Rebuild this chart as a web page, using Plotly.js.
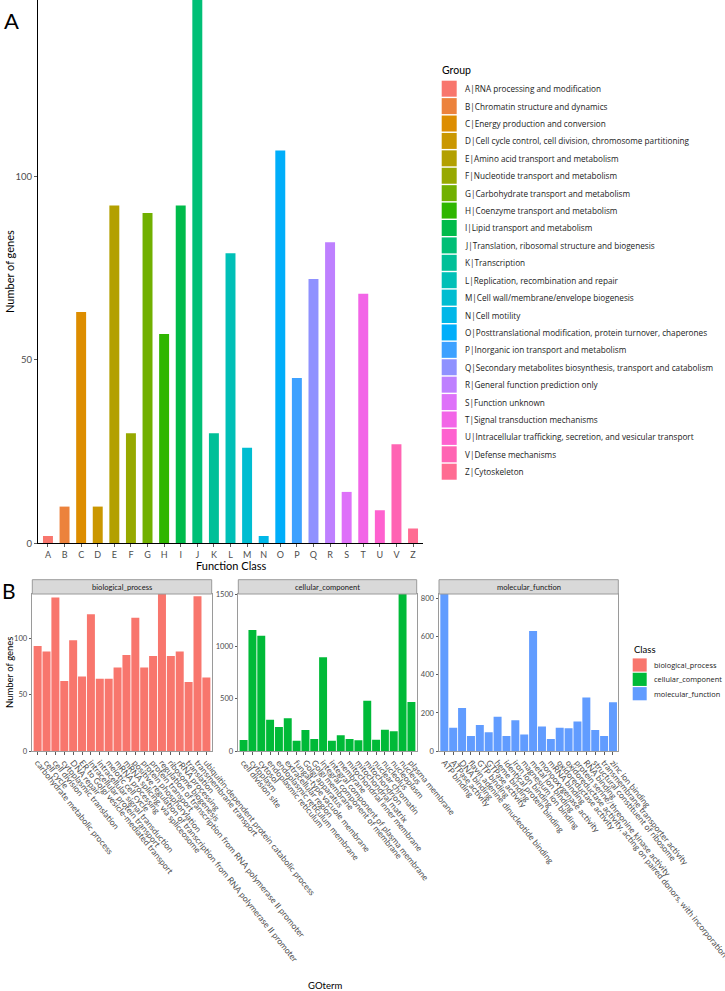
<!DOCTYPE html>
<html>
<head>
<meta charset="utf-8">
<script src="https://cdn.plot.ly/plotly-3.0.1.min.js"></script>
<style>html,body{margin:0;padding:0;background:#fff;}#chart{width:725px;height:991px;}</style>
</head>
<body>
<div id="chart"></div>
<script>
// ---------- DATA ----------
const cogLetters = ['A','B','C','D','E','F','G','H','I','J','K','L','M','N','O','P','Q','R','S','T','U','V','Z'];
const cogNames = [
  'RNA processing and modification',
  'Chromatin structure and dynamics',
  'Energy production and conversion',
  'Cell cycle control, cell division, chromosome partitioning',
  'Amino acid transport and metabolism',
  'Nucleotide transport and metabolism',
  'Carbohydrate transport and metabolism',
  'Coenzyme transport and metabolism',
  'Lipid transport and metabolism',
  'Translation, ribosomal structure and biogenesis',
  'Transcription',
  'Replication, recombination and repair',
  'Cell wall/membrane/envelope biogenesis',
  'Cell motility',
  'Posttranslational modification, protein turnover, chaperones',
  'Inorganic ion transport and metabolism',
  'Secondary metabolites biosynthesis, transport and catabolism',
  'General function prediction only',
  'Function unknown',
  'Signal transduction mechanisms',
  'Intracellular trafficking, secretion, and vesicular transport',
  'Defense mechanisms',
  'Cytoskeleton'
];
const cogCounts = [2,10,63,10,92,30,90,57,92,148,30,79,26,2,107,45,72,82,14,68,9,27,4];

const goClasses = ['biological_process','cellular_component','molecular_function'];

const bpTerms = [
  'carbohydrate metabolic process','cell cycle','cell division','cytoplasmic translation','DNA repair',
  'ER to Golgi vesicle-mediated transport','intracellular protein transport','intracellular signal transduction',
  'meiotic cell cycle','mRNA processing','mRNA splicing, via spliceosome',
  'positive regulation of transcription from RNA polymerase II promoter','protein phosphorylation',
  'protein transport','regulation of transcription from RNA polymerase II promoter','ribosome biogenesis',
  'rRNA processing','translation','transmembrane transport','ubiquitin-dependent protein catabolic process'
];
const bpCounts = [93,88,136,62,98,66,121,64,64,74,85,118,74,84,139,84,88,61,137,65];

const ccTerms = [
  'cell division site','cytoplasm','cytosol','endoplasmic reticulum','endoplasmic reticulum membrane',
  'extracellular region','fungal-type vacuole membrane','Golgi apparatus','Golgi membrane',
  'integral component of membrane','integral component of plasma membrane','membrane',
  'mitochondrial inner membrane','mitochondrial matrix','mitochondrion','nuclear chromatin',
  'nucleolus','nucleoplasm','nucleus','plasma membrane'
];
const ccCounts = [105,1156,1102,299,229,312,99,201,115,895,99,150,115,102,481,108,204,188,1500,468];

const mfTerms = [
  'ATP binding','ATPase activity','DNA binding','flavin adenine dinucleotide binding','GTP binding',
  'GTPase activity','heme binding','identical protein binding','iron ion binding','magnesium ion binding',
  'metal ion binding','monooxygenase activity','mRNA binding','oxidoreductase activity',
  'oxidoreductase activity, acting on paired donors, with incorporation or reduction of molecular oxygen',
  'protein serine/threonine kinase activity','RNA binding','structural constituent of ribosome',
  'transmembrane transporter activity','zinc ion binding'
];
const mfCounts = [823,122,225,79,136,98,180,79,161,87,629,128,63,122,119,154,281,110,79,255];

const topYTicks = [0,50,100];
const bpYTicks = [0,50,100];
const ccYTicks = [0,500,1000,1500];
const mfYTicks = [0,200,400,600,800];

// ---------- helpers ----------
function hcl(h, c, l) {
  const hr = h * Math.PI / 180;
  const U = c * Math.cos(hr), V = c * Math.sin(hr);
  const Xn = 95.047, Yn = 100, Zn = 108.883;
  const d = Xn + 15 * Yn + 3 * Zn;
  const un = 4 * Xn / d, vn = 9 * Yn / d;
  const Y = l > 8 ? Yn * Math.pow((l + 16) / 116, 3) : Yn * l / 903.3;
  const u = U / (13 * l) + un, v = V / (13 * l) + vn;
  const X = 9 * Y * u / (4 * v);
  const Z = -X / 3 - 5 * Y + 3 * Y / v;
  const x = X / 100, y = Y / 100, z = Z / 100;
  const lin = [
    3.240479 * x - 1.537150 * y - 0.498535 * z,
    -0.969256 * x + 1.875992 * y + 0.041556 * z,
    0.055648 * x - 0.204043 * y + 1.057311 * z
  ];
  const g = lin.map(t => {
    t = t <= 0.0031308 ? 12.92 * t : 1.055 * Math.pow(t, 1 / 2.4) - 0.055;
    return Math.round(Math.max(0, Math.min(1, t)) * 255);
  });
  return 'rgb(' + g.join(',') + ')';
}
function huePal(n) {
  const out = [];
  for (let i = 0; i < n; i++) out.push(hcl(15 + i * 360 / n, 100, 65));
  return out;
}
const W = 725, H = 991;
const px = x => x / W;
const py = y => 1 - y / H;

const cogColors = huePal(cogLetters.length);
const classColors = huePal(goClasses.length);

const FONT = 'Lato, "Noto Sans", sans-serif';
const LFONT = '"Open Sans", Lato, sans-serif';
const TICKGREY = '#4D4D4D';

// ---------- traces ----------
const traces = [
  {
    type: 'bar', x: cogLetters, y: cogCounts, xaxis: 'x', yaxis: 'y',
    width: 0.6, marker: { color: cogColors, line: { width: 0 } }
  },
  {
    type: 'bar', x: bpTerms, y: bpCounts, xaxis: 'x2', yaxis: 'y2', width: 0.9,
    marker: { color: classColors[0], line: { width: 0 } }, name: goClasses[0]
  },
  {
    type: 'bar', x: ccTerms, y: ccCounts, xaxis: 'x3', yaxis: 'y3', width: 0.9,
    marker: { color: classColors[1], line: { width: 0 } }, name: goClasses[1]
  },
  {
    type: 'bar', x: mfTerms, y: mfCounts, xaxis: 'x4', yaxis: 'y4', width: 0.9,
    marker: { color: classColors[2], line: { width: 0 } }, name: goClasses[2]
  }
];

// ---------- layout ----------
const facetPx = [[32.3, 211.7], [238.3, 416.7], [439, 618.3]];
const panelTop = 594, panelBot = 751, stripTop = 579.7;

function facetX(i, terms, anchor) {
  return {
    domain: [px(facetPx[i][0]), px(facetPx[i][1])], anchor: anchor, type: 'category',
    range: [-0.6, terms.length - 0.4], showline: true, mirror: true, linecolor: '#9A9A9A', linewidth: 1,
    tickmode: 'array', tickvals: terms, ticktext: terms,
    ticks: 'outside', ticklen: 2.5, tickcolor: '#333', tickwidth: 0.8,
    tickangle: 51, tickfont: { size: 8.5, color: TICKGREY, family: FONT },
    showgrid: false, zeroline: false, fixedrange: true
  };
}
function facetY(vals, maxv, anchor) {
  return {
    domain: [py(panelBot), py(panelTop)], anchor: anchor, range: [0, maxv],
    tickmode: 'array', tickvals: vals, ticktext: vals.map(String),
    showline: true, mirror: true, linecolor: '#9A9A9A', linewidth: 1,
    ticks: 'outside', ticklen: 2.5, tickcolor: '#333', tickwidth: 0.8,
    tickfont: { size: 7.6, color: TICKGREY, family: FONT },
    showgrid: false, zeroline: false, fixedrange: true
  };
}

const shapes = [];
const annotations = [];
function note(text, x, y, size, opts) {
  annotations.push(Object.assign({
    text: text, x: px(x), y: py(y), xref: 'paper', yref: 'paper',
    xanchor: 'left', yanchor: 'middle', showarrow: false,
    font: { size: size, family: FONT, color: '#000' }
  }, opts || {}));
}

// panel letters
note('A', 2, 21, 22);
note('B', 0, 590, 21);

// axis titles
note('Function Class', 230.5, 565, 11, { xanchor: 'center' });
note('Number of genes', 9, 272, 11, { xanchor: 'center', textangle: -90 });
note('Number of genes', 9, 673, 9.5, { xanchor: 'center', textangle: -90 });
note('GOterm', 325, 985, 9.5, { xanchor: 'center' });

// facet strips
goClasses.forEach((c, i) => {
  shapes.push({ type: 'rect', xref: 'paper', yref: 'paper', x0: px(facetPx[i][0]), x1: px(facetPx[i][1]), y0: py(panelTop), y1: py(stripTop), fillcolor: '#D9D9D9', line: { color: '#9A9A9A', width: 1 }, layer: 'above' });
  note(c, (facetPx[i][0] + facetPx[i][1]) / 2, (panelTop + stripTop) / 2, 7.6, { xanchor: 'center', font: { size: 7.6, family: FONT, color: '#1A1A1A' } });
});

// Group legend (top)
const gStep = 17.41, gFirst = 88.7;
note('Group', 440, 70, 10.5);
cogLetters.forEach((L, i) => {
  const cy = gFirst + i * gStep;
  shapes.push({ type: 'rect', xref: 'paper', yref: 'paper', x0: px(441.7), x1: px(456.7), y0: py(cy + 8), y1: py(cy - 8), fillcolor: cogColors[i], line: { width: 0 } });
  note(L + '|' + cogNames[i], 463, cy, 8.2, { font: { size: 8.2, family: LFONT, color: '#1A1A1A' } });
});

// Class legend (bottom)
const cStep = 14.35, cFirst = 665;
note('Class', 632, 649, 9.5);
goClasses.forEach((c, i) => {
  const cy = cFirst + i * cStep;
  shapes.push({ type: 'rect', xref: 'paper', yref: 'paper', x0: px(632.7), x1: px(646.7), y0: py(cy + 6.6), y1: py(cy - 6.6), fillcolor: classColors[i], line: { width: 0 } });
  note(c, 651.5, cy, 7.4, { font: { size: 7.4, family: LFONT, color: '#1A1A1A' } });
});

const layout = {
  width: W, height: H, margin: { l: 0, r: 0, t: 0, b: 0 },
  paper_bgcolor: '#fff', plot_bgcolor: '#fff', showlegend: false,
  font: { family: FONT, color: '#000' },
  xaxis: {
    domain: [px(38), px(423)], anchor: 'y', type: 'category', range: [-0.6, cogLetters.length - 0.4],
    tickmode: 'array', tickvals: cogLetters, ticktext: cogLetters,
    showline: true, linecolor: '#000', linewidth: 1, ticks: 'outside', ticklen: 2.5, tickcolor: '#333', tickwidth: 0.8,
    tickfont: { size: 9, color: TICKGREY, family: FONT }, showgrid: false, zeroline: false, fixedrange: true
  },
  yaxis: {
    domain: [py(543.3), 1], anchor: 'x', range: [0, Math.max(...cogCounts)],
    tickmode: 'array', tickvals: topYTicks, ticktext: topYTicks.map(String),
    showline: true, linecolor: '#000', linewidth: 1,
    ticks: 'outside', ticklen: 3, tickcolor: '#333', tickwidth: 0.8,
    tickfont: { size: 9.5, color: TICKGREY, family: FONT }, showgrid: false, zeroline: false, fixedrange: true
  },
  xaxis2: facetX(0, bpTerms, 'y2'),
  yaxis2: facetY(bpYTicks, Math.max(...bpCounts), 'x2'),
  xaxis3: facetX(1, ccTerms, 'y3'),
  yaxis3: facetY(ccYTicks, Math.max(...ccCounts), 'x3'),
  xaxis4: facetX(2, mfTerms, 'y4'),
  yaxis4: facetY(mfYTicks, Math.max(...mfCounts), 'x4'),
  shapes: shapes,
  annotations: annotations
};

Plotly.newPlot('chart', traces, layout, { displayModeBar: false, staticPlot: true });
</script>
</body>
</html>
